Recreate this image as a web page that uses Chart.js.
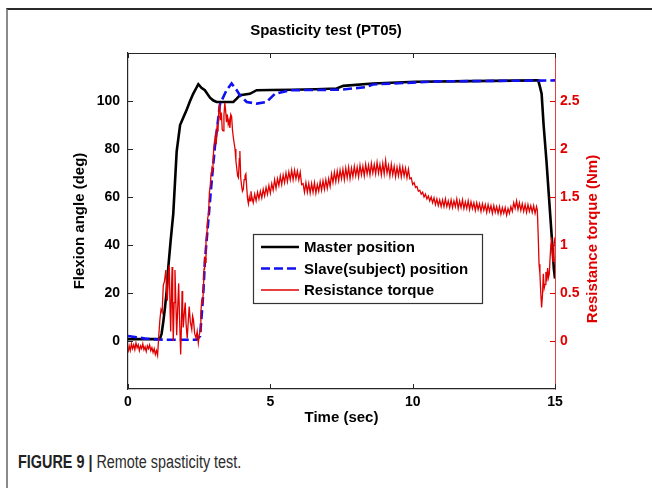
<!DOCTYPE html>
<html>
<head>
<meta charset="utf-8">
<script src="https://cdn.jsdelivr.net/npm/chart.js@4.4.1/dist/chart.umd.min.js"></script>
<style>
  html, body { margin: 0; padding: 0; background: #fff; }
  #wrap { position: relative; width: 652px; height: 488px; overflow: hidden; }
  #frame { position: absolute; left: 6px; top: 8px; width: 660px; height: 500px;
           border-left: 2px solid #8a8a8a; border-top: 2px solid #2a2a2a; }
  #caption { position: absolute; left: 18px; top: 452px; font-family: "Liberation Sans", Arial, sans-serif;
             font-size: 18px; color: #2b2b2b; white-space: nowrap; transform: scaleX(0.8); transform-origin: 0 0; }
  #caption b { color: #222; }
  #c { position: absolute; left: 0; top: 0; }
</style>
</head>
<body>
<div id="wrap">
  <div id="frame"></div>
  <div id="caption"><b>FIGURE 9 |</b> Remote spasticity test.</div>
  <canvas id="c" width="652" height="488"></canvas>
</div>
<script>
// values
const timeTicks = [0, 5, 10, 15];
const angleTicks = [0, 20, 40, 60, 80, 100];
const torqueTicks = [0, 0.5, 1, 1.5, 2, 2.5];

const masterTime = [0, 0.5, 1.0, 1.12, 1.18, 1.24, 1.3, 1.36, 1.41, 1.5, 1.59, 1.71, 1.83, 1.94, 2.05, 2.18, 2.29, 2.38, 2.47,
  2.58, 2.7, 2.88, 3.0, 3.11, 3.4, 3.7, 3.82, 3.93, 4.28, 4.52, 5.0, 5.8, 6.6, 7.33, 7.56, 8.6, 10.1, 12.0, 14.35,
  14.41, 14.47, 14.53, 14.6, 14.7, 14.8, 14.88, 14.96, 15.0];
const masterAngle = [0.8, 0.8, 0.8, 0.9, 3, 8, 14, 21, 30, 42, 53, 79, 90, 93, 96, 100, 103, 105, 107,
  105.5, 104.5, 101.4, 100.2, 99.6, 99.6, 99.6, 101, 102.4, 103, 104.5, 104.6, 104.7, 104.9, 105.2, 106.3, 107.3, 108, 108.3, 108.6,
  108.6, 106, 103, 90, 75, 58, 44.4, 30, 26];

const slaveTime = [0, 0.3, 0.6, 1.0, 1.5, 2.0, 2.41, 2.53, 2.59, 2.65, 2.7, 2.76, 2.82, 2.94, 3.06, 3.23, 3.46, 3.64,
  3.82, 3.93, 4.17, 4.52, 4.87, 5.16, 5.69, 7.45, 8.38, 8.6, 10.96, 14.4, 15.0];
const slaveAngle = [2.1, 1.6, 1.0, 0.6, 0.5, 0.5, 0.5, 2, 11, 21, 33, 41.7, 50, 66.6, 81.9, 98.6, 104.5, 107.3,
  104.5, 102.4, 99.6, 98.9, 99.6, 103, 104.5, 104.7, 105.8, 106.9, 108.2, 108.5, 108.6];

const torqueTime = [
  0.00, 0.04, 0.08, 0.12, 0.16, 0.20, 0.24, 0.28, 0.32, 0.36, 0.40, 0.44, 0.48, 0.52, 0.56, 0.60, 0.64, 0.68, 0.72, 0.76,
  0.80, 0.84, 0.88, 0.92, 0.96, 1.00, 1.04, 1.08, 1.12, 1.16, 1.20, 1.24, 1.28, 1.33, 1.36, 1.38, 1.42, 1.45, 1.48, 1.50,
  1.53, 1.55, 1.57, 1.59, 1.62, 1.65, 1.68, 1.71, 1.74, 1.78, 1.81, 1.85, 1.88, 1.90, 1.92, 1.94, 1.98, 2.01, 2.04, 2.08,
  2.12, 2.15, 2.19, 2.24, 2.27, 2.30, 2.34, 2.39, 2.43, 2.47, 2.50, 2.53, 2.56, 2.59, 2.62, 2.65, 2.67, 2.69, 2.72, 2.74,
  2.77, 2.80, 2.83, 2.86, 2.89, 2.92, 2.95, 2.98, 3.01, 3.04, 3.07, 3.10, 3.13, 3.16, 3.19, 3.22, 3.25, 3.28, 3.31, 3.34,
  3.37, 3.40, 3.43, 3.46, 3.49, 3.52, 3.55, 3.58, 3.61, 3.64, 3.67, 3.70, 3.73, 3.76, 3.79, 3.82, 3.85, 3.88, 3.91, 3.93,
  3.96, 3.99, 4.02, 4.05, 4.08, 4.11, 4.14, 4.17, 4.20, 4.23, 4.26, 4.29, 4.32, 4.35, 4.40, 4.45, 4.50, 4.55, 4.60, 4.65,
  4.70, 4.75, 4.80, 4.85, 4.90, 4.95, 5.00, 5.05, 5.10, 5.15, 5.20, 5.25, 5.30, 5.35, 5.40, 5.45, 5.50, 5.55, 5.60, 5.65,
  5.70, 5.75, 5.80, 5.85, 5.90, 5.95, 6.00, 6.05, 6.10, 6.15, 6.20, 6.25, 6.30, 6.35, 6.40, 6.45, 6.50, 6.55, 6.60, 6.65,
  6.70, 6.75, 6.80, 6.85, 6.90, 6.95, 7.00, 7.05, 7.10, 7.15, 7.20, 7.25, 7.30, 7.35, 7.40, 7.45, 7.50, 7.55, 7.60, 7.65,
  7.70, 7.75, 7.80, 7.85, 7.90, 7.95, 8.00, 8.05, 8.10, 8.15, 8.20, 8.25, 8.30, 8.35, 8.40, 8.45, 8.50, 8.55, 8.60, 8.65,
  8.70, 8.75, 8.80, 8.85, 8.90, 8.95, 9.00, 9.05, 9.10, 9.15, 9.20, 9.25, 9.30, 9.35, 9.40, 9.45, 9.50, 9.55, 9.60, 9.65,
  9.70, 9.75, 9.80, 9.85, 9.90, 9.95, 10.00, 10.05, 10.10, 10.15, 10.20, 10.25, 10.30, 10.35, 10.40, 10.45, 10.50, 10.55, 10.60, 10.65,
  10.70, 10.75, 10.80, 10.85, 10.90, 10.95, 11.00, 11.05, 11.10, 11.15, 11.20, 11.25, 11.30, 11.35, 11.40, 11.45, 11.50, 11.55, 11.60, 11.65,
  11.70, 11.75, 11.80, 11.85, 11.90, 11.95, 12.00, 12.05, 12.10, 12.15, 12.20, 12.25, 12.30, 12.35, 12.40, 12.45, 12.50, 12.55, 12.60, 12.65,
  12.70, 12.75, 12.80, 12.85, 12.90, 12.95, 13.00, 13.05, 13.10, 13.15, 13.20, 13.25, 13.30, 13.35, 13.40, 13.45, 13.50, 13.55, 13.60, 13.65,
  13.70, 13.75, 13.80, 13.85, 13.90, 13.95, 14.00, 14.05, 14.10, 14.15, 14.20, 14.25, 14.30, 14.35, 14.38, 14.41, 14.44, 14.47, 14.50, 14.53,
  14.56, 14.59, 14.62, 14.65, 14.68, 14.71, 14.74, 14.77, 14.80, 14.83, 14.86, 14.88, 14.91, 14.93, 14.96, 15.00];
const torqueNm = [
  -0.12, -0.05, -0.10, -0.03, -0.08, -0.04, -0.09, -0.02, -0.07, -0.04, -0.10, -0.05, -0.08, -0.03, -0.09, -0.06, -0.11, -0.05, -0.08, -0.04,
  -0.10, -0.07, -0.12, -0.08, -0.14, -0.10, -0.15, 0.05, 0.22, 0.33, 0.30, 0.58, 0.62, 0.74, 0.50, 0.42, 0.70, 0.79, 0.30, 0.10,
  0.55, 0.77, 0.35, 0.00, 0.40, 0.74, 0.42, 0.06, 0.30, 0.60, 0.25, -0.14, 0.20, 0.52, 0.35, 0.14, 0.30, 0.40, 0.18, 0.03,
  0.22, 0.36, 0.20, 0.12, 0.26, 0.22, 0.08, 0.03, 0.10, -0.02, 0.06, 0.10, 0.30, 0.42, 0.40, 0.52, 0.75, 0.88, 0.82, 1.04,
  1.10, 1.28, 1.32, 1.55, 1.62, 1.75, 1.80, 1.78, 2.00, 2.08, 2.14, 2.05, 2.25, 2.18, 2.40, 2.47, 2.30, 2.38, 2.20, 2.19,
  2.35, 2.48, 2.40, 2.28, 2.36, 2.26, 2.30, 2.22, 2.36, 2.34, 2.20, 2.12, 2.06, 2.00, 1.88, 1.80, 1.72, 1.70, 1.90, 1.98,
  1.70, 1.62, 1.56, 1.58, 1.68, 1.72, 1.74, 1.60, 1.48, 1.43, 1.50, 1.46, 1.56, 1.50, 1.44, 1.53, 1.46, 1.55, 1.48, 1.56,
  1.49, 1.58, 1.51, 1.60, 1.53, 1.62, 1.54, 1.64, 1.57, 1.68, 1.59, 1.69, 1.62, 1.72, 1.63, 1.73, 1.65, 1.75, 1.66, 1.76,
  1.68, 1.78, 1.68, 1.78, 1.69, 1.77, 1.68, 1.76, 1.63, 1.64, 1.55, 1.65, 1.55, 1.64, 1.54, 1.64, 1.55, 1.65, 1.54, 1.63,
  1.56, 1.66, 1.57, 1.67, 1.58, 1.68, 1.59, 1.69, 1.61, 1.74, 1.65, 1.76, 1.66, 1.77, 1.67, 1.78, 1.69, 1.79, 1.68, 1.80,
  1.70, 1.81, 1.69, 1.80, 1.71, 1.82, 1.72, 1.81, 1.71, 1.83, 1.73, 1.82, 1.72, 1.84, 1.74, 1.83, 1.73, 1.85, 1.75, 1.84,
  1.74, 1.86, 1.75, 1.84, 1.73, 1.85, 1.74, 1.88, 1.75, 1.83, 1.72, 1.84, 1.73, 1.82, 1.71, 1.81, 1.72, 1.82, 1.71, 1.81,
  1.72, 1.80, 1.70, 1.79, 1.69, 1.70, 1.63, 1.65, 1.60, 1.61, 1.56, 1.57, 1.53, 1.55, 1.50, 1.53, 1.48, 1.51, 1.46, 1.50,
  1.44, 1.49, 1.42, 1.48, 1.41, 1.47, 1.40, 1.47, 1.40, 1.48, 1.40, 1.46, 1.39, 1.47, 1.39, 1.46, 1.40, 1.48, 1.38, 1.46,
  1.39, 1.47, 1.38, 1.45, 1.38, 1.46, 1.37, 1.45, 1.38, 1.44, 1.36, 1.44, 1.37, 1.43, 1.35, 1.43, 1.36, 1.42, 1.34, 1.42,
  1.35, 1.41, 1.33, 1.41, 1.34, 1.40, 1.33, 1.40, 1.32, 1.39, 1.33, 1.39, 1.31, 1.38, 1.33, 1.40, 1.35, 1.44, 1.38, 1.46,
  1.37, 1.44, 1.36, 1.43, 1.35, 1.42, 1.34, 1.42, 1.35, 1.41, 1.34, 1.41, 1.33, 1.40, 1.36, 1.10, 0.80, 0.70, 0.50, 0.35,
  0.48, 0.70, 0.55, 0.59, 0.72, 0.62, 0.76, 0.66, 0.70, 0.88, 1.02, 1.08, 0.92, 0.83, 0.98, 1.08];

const FONT = "'Liberation Sans', Arial, Helvetica, sans-serif";
const RED = "#e00000";
const AXIS = "#262626";

function points(xs, ys) {
  return xs.map(function (x, i) { return { x: x, y: ys[i] }; });
}

function plainLabel(value) {
  return String(value);
}

// MATLAB style inward ticks, top border, right title and the in-plot legend
const matlabFrame = {
  id: "matlabFrame",
  afterDraw(chart) {
    const ctx = chart.ctx;
    const a = chart.chartArea;
    const sx = chart.scales.x, sy = chart.scales.y, sy1 = chart.scales.y1;
    const len = 5;
    ctx.save();
    ctx.lineWidth = 1;
    ctx.strokeStyle = AXIS;
    ctx.beginPath();
    ctx.moveTo(a.left, a.top + 0.5);
    ctx.lineTo(a.right, a.top + 0.5);
    timeTicks.forEach(function (t) {
      const px = Math.round(sx.getPixelForValue(t)) + 0.5;
      ctx.moveTo(px, a.bottom); ctx.lineTo(px, a.bottom - len);
      ctx.moveTo(px, a.top); ctx.lineTo(px, a.top + len);
    });
    angleTicks.forEach(function (v) {
      const py = Math.round(sy.getPixelForValue(v)) + 0.5;
      ctx.moveTo(a.left, py); ctx.lineTo(a.left + len, py);
    });
    ctx.stroke();
    ctx.strokeStyle = RED;
    ctx.beginPath();
    torqueTicks.forEach(function (v) {
      const py = Math.round(sy1.getPixelForValue(v)) + 0.5;
      ctx.moveTo(a.right, py); ctx.lineTo(a.right - len, py);
    });
    ctx.stroke();

    // right axis title, reading bottom to top like MATLAB
    ctx.save();
    ctx.translate(sy1.right - 59, a.top + 186);
    ctx.rotate(-Math.PI / 2);
    ctx.font = "bold 15px " + FONT;
    ctx.fillStyle = RED;
    ctx.textAlign = "center";
    ctx.textBaseline = "middle";
    ctx.fillText(sy1.options.title.text, 0, 0);
    ctx.restore();

    // legend box
    const bx = a.left + 125, by = a.top + 181, bw = 229, bh = 69;
    ctx.fillStyle = "#fff";
    ctx.fillRect(bx, by, bw, bh);
    ctx.strokeStyle = "#333";
    ctx.lineWidth = 1.2;
    ctx.strokeRect(bx + 0.5, by + 0.5, bw, bh);
    ctx.font = "bold 15px " + FONT;
    ctx.textBaseline = "middle";
    ctx.fillStyle = "#000";
    [0, 1, 2].forEach(function (i, row) {
      const ds = chart.data.datasets[i];
      const y = by + 13 + row * 21.5;
      ctx.save();
      ctx.strokeStyle = ds.borderColor;
      ctx.lineWidth = ds.borderWidth;
      ctx.setLineDash(ds.borderDash || []);
      ctx.beginPath();
      ctx.moveTo(bx + 8, y);
      ctx.lineTo(bx + 46, y);
      ctx.stroke();
      ctx.restore();
      ctx.fillText(ds.label, bx + 51, y + 1);
    });
    ctx.restore();
  }
};

const ctx = document.getElementById("c").getContext("2d");
const myChart = new Chart(ctx, {
  type: "line",
  data: {
    datasets: [
      {
        label: "Master position",
        data: points(masterTime, masterAngle),
        borderColor: "#000",
        borderWidth: 2.6,
        yAxisID: "y",
        order: 2
      },
      {
        label: "Slave(subject) position",
        data: points(slaveTime, slaveAngle),
        borderColor: "#1010f0",
        borderWidth: 2.6,
        borderDash: [9, 4],
        yAxisID: "y",
        order: 1
      },
      {
        label: "Resistance torque",
        data: points(torqueTime, torqueNm),
        borderColor: RED,
        borderWidth: 1.3,
        yAxisID: "y1",
        order: 0
      }
    ]
  },
  options: {
    responsive: false,
    animation: false,
    events: [],
    elements: { point: { radius: 0 }, line: { tension: 0, fill: false } },
    layout: { padding: 0 },
    plugins: {
      legend: { display: false },
      tooltip: { enabled: false },
      title: {
        display: true,
        text: "Spasticity test (PT05)",
        color: "#000",
        font: { family: FONT, size: 15, weight: "bold" },
        padding: { top: 22, bottom: 13 }
      }
    },
    scales: {
      x: {
        type: "linear",
        min: 0,
        max: 15,
        afterBuildTicks: function (s) { s.ticks = timeTicks.map(function (v) { return { value: v }; }); },
        afterFit: function (s) { s.height = 99; },
        grid: { display: false, drawTicks: false },
        border: { display: true, color: AXIS, width: 1.2 },
        ticks: { color: "#000", padding: 5, maxRotation: 0, callback: plainLabel,
                 font: { family: FONT, size: 14, weight: "bold" } },
        title: { display: true, text: "Time (sec)", color: "#000", padding: { top: 0, bottom: 61 },
                 font: { family: FONT, size: 15, weight: "bold" } }
      },
      y: {
        type: "linear",
        position: "left",
        min: -20,
        max: 120,
        afterBuildTicks: function (s) { s.ticks = angleTicks.map(function (v) { return { value: v }; }); },
        afterFit: function (s) { s.width = 128; },
        grid: { display: false, drawTicks: false },
        border: { display: true, color: AXIS, width: 1.2 },
        ticks: { color: "#000", padding: 8, callback: plainLabel, font: { family: FONT, size: 14, weight: "bold" } },
        title: { display: true, text: "Flexion angle (deg)", color: "#000", padding: { top: 71, bottom: 0 },
                 font: { family: FONT, size: 15, weight: "bold" } }
      },
      y1: {
        type: "linear",
        position: "right",
        min: -0.5,
        max: 3,
        afterBuildTicks: function (s) { s.ticks = torqueTicks.map(function (v) { return { value: v }; }); },
        afterFit: function (s) { s.width = 97; },
        grid: { display: false, drawTicks: false },
        border: { display: true, color: "#e04040", width: 1 },
        ticks: { color: RED, padding: 5, callback: plainLabel, font: { family: FONT, size: 14, weight: "bold" } },
        title: { display: false, text: "Resistance torque (Nm)" }
      }
    }
  },
  plugins: [matlabFrame]
});
</script>
</body>
</html>
